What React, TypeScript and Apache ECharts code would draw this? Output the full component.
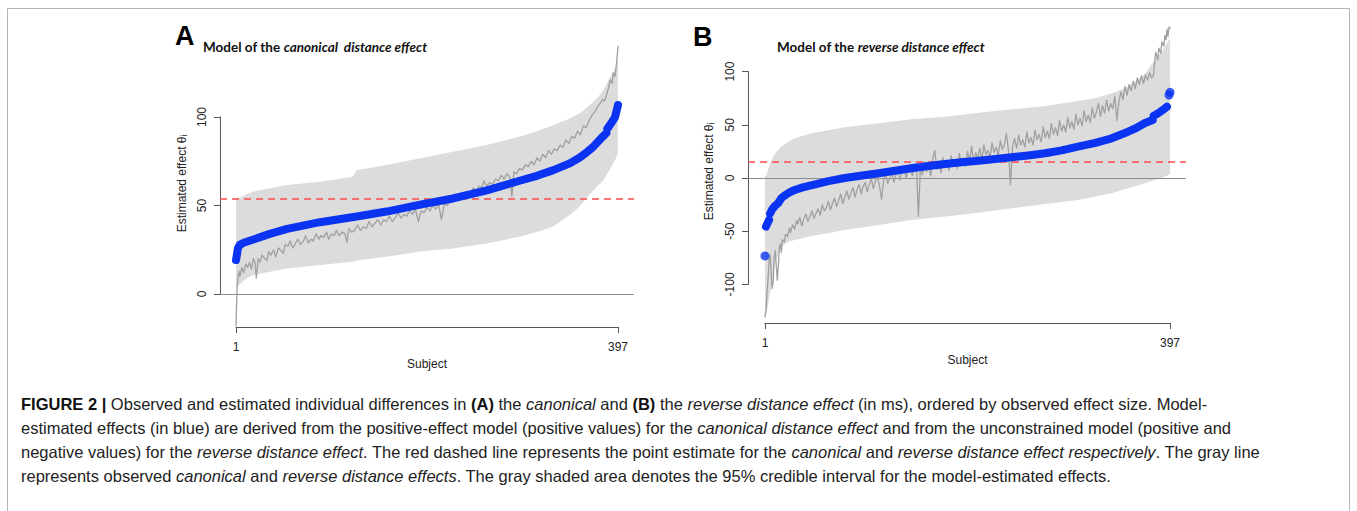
import React, { useEffect, useRef } from "react";
import * as echarts from "echarts";

// ---------- Panel A: canonical distance effect ----------
const subjectTicks = [1, 397];
const yTicksA = [0, 50, 100];
const pointEstimateA = 53.7;

const bandSubjectsA = [1, 2, 7, 12, 19, 36, 54, 88, 122, 126, 157, 192, 226, 261, 295, 313, 330, 347, 357, 364, 375, 382, 388, 394, 397];
const bandLowerA = [3, 4.5, 6.5, 9, 10.7, 12.6, 14.5, 16.4, 18.3, 19, 21.1, 24, 25.8, 28.6, 32.4, 35, 38.1, 44.6, 49.3, 54, 60.6, 64.4, 70, 75.7, 79.5];
const bandUpperA = [53, 54, 55, 56.5, 57.8, 59.7, 61.6, 63.5, 66.3, 70, 72.9, 76.7, 80.4, 84.2, 88.9, 92, 95.5, 99.2, 102, 104.9, 110.5, 115.3, 121.8, 127.5, 132];

const observedA = [
  [1, -18], [2, 2], [3, 9], [4, 13], [5, 10], [7, 15], [9, 12], [11, 17], [13, 15], [15, 18], [17, 14], [19, 20], [21, 17], [22, 9], [24, 20], [26, 18], [28, 22], [31, 20], [33, 19], [35, 24], [37, 22], [40, 25], [42, 21], [45, 26], [47, 25], [50, 23], [52, 28], [55, 27], [57, 30], [60, 26], [63, 29], [65, 31], [68, 28], [71, 30], [73, 33], [76, 29], [79, 31], [81, 30], [84, 34], [87, 31], [89, 33], [92, 32], [95, 35], [97, 31], [100, 34], [103, 33], [105, 36], [108, 33], [111, 35], [114, 34], [116, 29], [118, 37], [121, 35], [124, 36], [127, 39], [130, 36], [133, 38], [136, 37], [139, 41], [142, 38], [145, 40], [148, 42], [151, 39], [154, 42], [157, 41], [160, 44], [163, 41], [166, 43], [169, 46], [172, 43], [175, 45], [178, 44], [181, 47], [184, 45], [187, 48], [190, 41], [193, 47], [196, 46], [199, 49], [202, 47], [205, 50], [208, 48], [211, 51], [214, 42], [217, 51], [220, 50], [223, 53], [226, 52], [229, 55], [232, 53], [235, 56], [238, 55], [241, 58], [244, 56], [247, 60], [250, 58], [253, 61], [256, 60], [258, 64], [261, 61], [264, 63], [267, 62], [270, 65], [273, 64], [276, 67], [279, 65], [282, 68], [285, 66], [287, 55], [289, 69], [292, 68], [295, 71], [298, 70], [301, 73], [304, 72], [307, 75], [310, 73], [313, 77], [316, 75], [319, 79], [322, 77], [325, 81], [328, 79], [331, 82], [334, 81], [337, 84], [340, 83], [343, 87], [346, 85], [349, 89], [352, 88], [355, 92], [358, 90], [361, 95], [364, 94], [367, 98], [370, 101], [373, 103], [376, 106], [379, 108], [381, 110], [383, 109], [385, 112], [387, 116], [389, 121], [391, 119], [392, 125], [394, 123], [395, 128], [396, 133], [397, 140],
];

const estimatedA1 = [
  [1, 19.2], [2, 22.5], [3, 26], [5, 27.8], [9, 29], [19, 30.8], [36, 34], [54, 36.8], [88, 40.6], [123, 43.5], [157, 46.6], [192, 50.5], [226, 54], [261, 58.6], [295, 64], [313, 66.8], [330, 70], [347, 73.8], [357, 77], [364, 79.8], [371, 83], [381, 88.8], [385, 91],
];
const estimatedA2 = [[386, 93.5], [390, 96.5], [394, 100], [397, 106.8]];

// ---------- Panel B: reverse distance effect ----------
const yTicksB = [-100, -50, 0, 50, 100];
const pointEstimateB = 15;

const bandSubjectsB = [1, 2.6, 6, 10.8, 17, 24, 30, 47, 79, 112, 144, 177, 210, 242, 275, 307, 324, 340, 356, 365, 373, 382, 389, 394, 397];
const bandUpperB = [1.5, 3, 14, 23, 29.5, 34, 37.3, 42, 47.6, 51.4, 55.1, 57.6, 61.4, 64.5, 67.7, 72.4, 74.9, 79.6, 85.8, 92, 98.4, 110.9, 118.7, 126.6, 131.3];
const bandLowerB = [-133.5, -127, -108, -80, -64.5, -60, -58.3, -54.5, -48.9, -44.2, -39.5, -36.3, -32.6, -28.5, -24.4, -20.7, -17.5, -14.4, -9.7, -7, -5, -2, 0, 2, 4];

const observedB = [
  [1, -130], [2, -124], [3, -108], [4, -95], [5, -78], [6, -72], [7, -88], [8, -104], [9, -98], [10, -75], [11, -68], [12, -82], [13, -96], [14, -84], [15, -66], [16, -62], [17, -70], [18, -58], [20, -60], [21, -53], [23, -55], [25, -47], [26, -51], [28, -44], [30, -48], [32, -40], [33, -43], [35, -37], [37, -45], [39, -38], [41, -34], [43, -41], [45, -36], [47, -31], [49, -38], [51, -33], [53, -29], [55, -35], [57, -25], [59, -31], [61, -28], [63, -22], [65, -30], [67, -24], [69, -19], [71, -27], [73, -21], [75, -15], [77, -24], [79, -18], [81, -12], [83, -20], [85, -14], [87, -9], [89, -18], [91, -11], [93, -6], [95, -15], [97, -8], [99, -4], [101, -13], [103, -6], [105, -1], [107, -10], [109, -3], [111, 2], [113, -8], [115, -20], [117, -2], [119, 4], [121, -5], [123, -1], [125, 6], [127, -4], [129, 3], [131, 8], [133, -2], [135, 5], [137, 10], [139, 0], [141, 7], [143, 12], [145, 2], [147, 9], [149, 14], [151, -36], [153, 11], [155, 3], [157, 15], [159, 6], [161, 12], [163, 2], [165, 18], [167, 26], [169, 8], [171, 16], [173, 5], [175, 19], [177, 10], [179, 14], [181, 7], [183, 21], [185, 12], [187, 17], [189, 9], [191, 23], [193, 14], [195, 19], [197, 11], [199, 25], [201, 16], [203, 30], [205, 14], [207, 24], [209, 18], [211, 28], [213, 17], [215, 31], [217, 22], [219, 26], [221, 19], [223, 33], [225, 24], [227, 29], [229, 21], [231, 35], [233, 27], [235, 31], [237, 42], [239, 26], [241, -6], [243, 30], [245, 37], [247, 28], [249, 40], [251, 31], [253, 36], [255, 29], [257, 43], [259, 33], [261, 38], [263, 31], [265, 45], [267, 36], [269, 41], [271, 34], [273, 48], [275, 38], [277, 44], [279, 37], [281, 51], [283, 41], [285, 47], [287, 40], [289, 54], [291, 44], [293, 50], [295, 43], [297, 57], [299, 47], [301, 53], [303, 46], [305, 60], [307, 50], [309, 56], [311, 49], [313, 63], [315, 53], [317, 59], [319, 52], [321, 66], [323, 56], [325, 62], [327, 70], [329, 58], [331, 68], [333, 61], [335, 73], [337, 63], [339, 70], [341, 65], [343, 77], [345, 54], [347, 72], [349, 81], [351, 74], [353, 86], [355, 78], [357, 88], [359, 82], [361, 91], [363, 84], [365, 94], [367, 88], [369, 96], [371, 89], [373, 97], [375, 92], [377, 99], [379, 94], [381, 97], [382, 110], [383, 118], [385, 111], [386, 122], [388, 117], [389, 128], [391, 124], [392, 134], [393, 130], [394, 140], [395, 133], [396, 142], [397, 141],
];

const estimatedB0 = [[1, -73.3]];
const estimatedB1 = [[2, -45.7], [3, -43.5], [4, -41.5], [5, -39.5]];
const estimatedB2 = [
  [6, -33.5], [8, -29.5], [11, -26], [14, -23.5], [17, -19], [21, -16], [25, -13.5], [30, -11.3], [38, -8.8], [47, -6.6], [63, -3], [79, 0], [96, 2.3], [112, 4.4], [128, 6.8], [144, 9.1], [161, 11.2], [177, 13.2], [193, 14.8], [210, 16.3], [226, 17.8], [242, 19.4], [258, 21.2], [275, 23.2], [291, 26], [307, 29.4], [324, 33], [340, 37.3], [356, 43.5], [364, 47], [372, 51.4], [380, 54.5],
];
const estimatedB3 = [[381, 58.5], [384, 60], [388, 62.5], [391, 64.8], [394, 67]];
const estimatedB4 = [[396, 78], [397, 80.5]];

// ---------- Text ----------
const panelTitleA = "Model of the {i|canonical  distance effect}";
const panelTitleB = "Model of the {i|reverse distance effect}";
const yAxisTitle = "Estimated effect θᵢ";
const xAxisTitle = "Subject";
const captionLines = [
  "{b|FIGURE 2 |} Observed and estimated individual differences in {b|(A)} the {i|canonical} and {b|(B)} the {i|reverse distance effect} (in ms), ordered by observed effect size. Model-",
  "estimated effects (in blue) are derived from the positive-effect model (positive values) for the {i|canonical distance effect} and from the unconstrained model (positive and",
  "negative values) for the {i|reverse distance effect}. The red dashed line represents the point estimate for the {i|canonical} and {i|reverse distance effect respectively}. The gray line",
  "represents observed {i|canonical} and {i|reverse distance effects}. The gray shaded area denotes the 95% credible interval for the model-estimated effects.",
];

const BLUE = "#0a33f2";
const GRAY_LINE = "#a0a0a0";
const BAND = "#dcdcdc";
const RED = "#ff4a4a";
const AXIS = "#555555";
const TEXT = "#222222";
const FONT = "'Liberation Sans', Arial, sans-serif";
const CAPTION_FONT = "'Liberation Sans Narrow', 'Liberation Sans', Arial, sans-serif";
const TITLE_FONT = "Lato, 'Open Sans', sans-serif";
const CAPTION_SIZE = 16.5;
const TITLE_SIZE = 13.5;

function bandSeries(xi: number, subjects: number[], lower: number[], upper: number[]) {
  return {
    type: "custom",
    xAxisIndex: xi,
    yAxisIndex: xi,
    silent: true,
    clip: false,
    z: 1,
    data: [[subjects[0], lower[0]]],
    renderItem: (_params: any, api: any) => {
      const pts: number[][] = [];
      for (let i = 0; i < subjects.length; i++) pts.push(api.coord([subjects[i], upper[i]]));
      for (let i = subjects.length - 1; i >= 0; i--) pts.push(api.coord([subjects[i], lower[i]]));
      return { type: "polygon", shape: { points: pts }, style: { fill: BAND, stroke: null } };
    },
  };
}

function hLine(xi: number, value: number, color: string, dashed: boolean, z: number, width: number) {
  return {
    type: "line",
    xAxisIndex: xi,
    yAxisIndex: xi,
    data: [],
    silent: true,
    z,
    markLine: {
      silent: true,
      symbol: "none",
      label: { show: false },
      animation: false,
      lineStyle: { color, width, type: dashed ? [7, 5] : "solid" },
      data: [{ yAxis: value }],
      z,
    },
  };
}

function lineSeries(xi: number, data: number[][], color: string, width: number, z: number) {
  return {
    type: "line",
    xAxisIndex: xi,
    yAxisIndex: xi,
    data,
    symbol: "none",
    silent: true,
    clip: false,
    z,
    lineStyle: { color, width, cap: "round", join: "round" },
  };
}

function dotSeries(xi: number, data: number[][], z: number) {
  return {
    type: "scatter",
    xAxisIndex: xi,
    yAxisIndex: xi,
    data,
    symbolSize: 9,
    silent: true,
    clip: false,
    z,
    itemStyle: { color: BLUE },
  };
}

export default function App() {
  const ref = useRef<HTMLDivElement>(null);

  useEffect(() => {
    if (!ref.current) return;
    const chart = echarts.init(ref.current, undefined, { renderer: "svg" });

    const hidden = { show: false };
    const dataX = (grid: number, min: number, max: number) => ({ type: "value", gridIndex: grid, min, max, show: false });
    const dataY = (grid: number, min: number, max: number, gap: number) => ({
      type: "value",
      gridIndex: grid,
      min,
      max,
      axisLine: hidden,
      axisTick: hidden,
      axisLabel: hidden,
      splitLine: hidden,
      name: yAxisTitle,
      nameLocation: "middle",
      nameRotate: 90,
      nameGap: gap,
      nameTextStyle: { color: TEXT, fontSize: 12, fontFamily: FONT },
    });
    const tickY = (grid: number, ticks: number[]) => ({
      type: "value",
      gridIndex: grid,
      min: ticks[0],
      max: ticks[ticks.length - 1],
      interval: ticks[1] - ticks[0],
      axisLine: { show: true, lineStyle: { color: AXIS, width: 1 } },
      axisTick: { show: true, length: 6, lineStyle: { color: AXIS, width: 1 } },
      axisLabel: { show: true, rotate: 90, margin: 12, color: TEXT, fontSize: 12, fontFamily: FONT },
      splitLine: hidden,
    });
    const tickX = (grid: number) => ({
      type: "value",
      gridIndex: grid,
      min: subjectTicks[0],
      max: subjectTicks[subjectTicks.length - 1],
      axisLine: { show: true, lineStyle: { color: AXIS, width: 1 } },
      axisTick: { show: true, length: 6, customValues: subjectTicks, lineStyle: { color: AXIS, width: 1 } },
      axisLabel: { show: true, customValues: subjectTicks, margin: 14, color: TEXT, fontSize: 12, fontFamily: FONT },
      splitLine: hidden,
      name: xAxisTitle,
      nameLocation: "middle",
      nameGap: 31,
      nameTextStyle: { color: TEXT, fontSize: 12, fontFamily: FONT },
    });
    const blankX = (grid: number) => ({ type: "value", gridIndex: grid, show: false, min: 0, max: 1 });
    const blankY = (grid: number) => ({ type: "value", gridIndex: grid, show: false, min: 0, max: 1 });

    const titleStyle = (x: number, text: string) => ({
      x,
      y: 47,
      text,
      fill: "#111",
      font: `bold ${TITLE_SIZE}px ${TITLE_FONT}`,
      verticalAlign: "middle",
      rich: { i: { fontStyle: "italic", fontWeight: "bold", fontSize: TITLE_SIZE, fontFamily: TITLE_FONT, fill: "#111" } },
    });

    const option: any = {
      animation: false,
      backgroundColor: "#ffffff",
      grid: [
        { left: 220, top: 40, width: 414, height: 287 },
        { left: 220, top: 117, width: 1, height: 177 },
        { left: 236, top: 300, width: 382, height: 27 },
        { left: 748, top: 20, width: 438, height: 303 },
        { left: 748, top: 71.6, width: 1, height: 212.8 },
        { left: 765, top: 296, width: 405, height: 27 },
      ],
      xAxis: [
        dataX(0, -15.6, 413.6),
        blankX(1),
        tickX(2),
        dataX(3, -15.6, 412.6),
        blankX(4),
        tickX(5),
      ],
      yAxis: [
        dataY(0, -18.6, 143.5, 32),
        tickY(1, yTicksA),
        blankY(2),
        dataY(3, -136.3, 148.5, 33),
        tickY(4, yTicksB),
        blankY(5),
      ],
      series: [
        bandSeries(0, bandSubjectsA, bandLowerA, bandUpperA),
        hLine(0, 0, "#8c8c8c", false, 2, 1.2),
        lineSeries(0, observedA, GRAY_LINE, 1.3, 3),
        hLine(0, pointEstimateA, RED, true, 4, 1.5),
        lineSeries(0, estimatedA1, BLUE, 8, 5),
        lineSeries(0, estimatedA2, BLUE, 8, 5),

        bandSeries(3, bandSubjectsB, bandLowerB, bandUpperB),
        hLine(3, 0, "#8c8c8c", false, 2, 1.2),
        lineSeries(3, observedB, GRAY_LINE, 1.3, 3),
        hLine(3, pointEstimateB, RED, true, 4, 1.5),
        dotSeries(3, estimatedB0, 5),
        lineSeries(3, estimatedB1, BLUE, 8, 5),
        lineSeries(3, estimatedB2, BLUE, 8, 5),
        lineSeries(3, estimatedB3, BLUE, 8, 5),
        dotSeries(3, estimatedB4, 5),
      ],
      graphic: [
        {
          type: "rect",
          silent: true,
          shape: { x: 7.5, y: 8.5, width: 1342, height: 530 },
          style: { fill: "none", stroke: "#b4b4b4", lineWidth: 1 },
          z: 0,
        },
        {
          type: "text",
          silent: true,
          style: { x: 175, y: 36, text: "A", fill: "#000", font: `bold 27px ${FONT}`, verticalAlign: "middle" },
        },
        { type: "text", silent: true, style: titleStyle(203, panelTitleA) },
        {
          type: "text",
          silent: true,
          style: { x: 693, y: 37, text: "B", fill: "#000", font: `bold 27px ${FONT}`, verticalAlign: "middle" },
        },
        { type: "text", silent: true, style: titleStyle(777, panelTitleB) },
        ...captionLines.map((line, k) => ({
          type: "text",
          silent: true,
          style: {
            x: 21,
            y: 404 + k * 24,
            text: line,
            fill: TEXT,
            font: `${CAPTION_SIZE}px ${CAPTION_FONT}`,
            verticalAlign: "middle",
            rich: {
              b: { fontWeight: "bold", fontSize: CAPTION_SIZE, fontFamily: CAPTION_FONT, fill: "#111" },
              i: { fontStyle: "italic", fontSize: CAPTION_SIZE, fontFamily: CAPTION_FONT, fill: TEXT },
            },
          },
        })),
      ],
    };

    chart.setOption(option);
    return () => chart.dispose();
  }, []);

  return (
    <div
      ref={ref}
      style={{ position: "absolute", left: 0, top: 0, width: 1357, height: 511, background: "#fff" }}
    />
  );
}
